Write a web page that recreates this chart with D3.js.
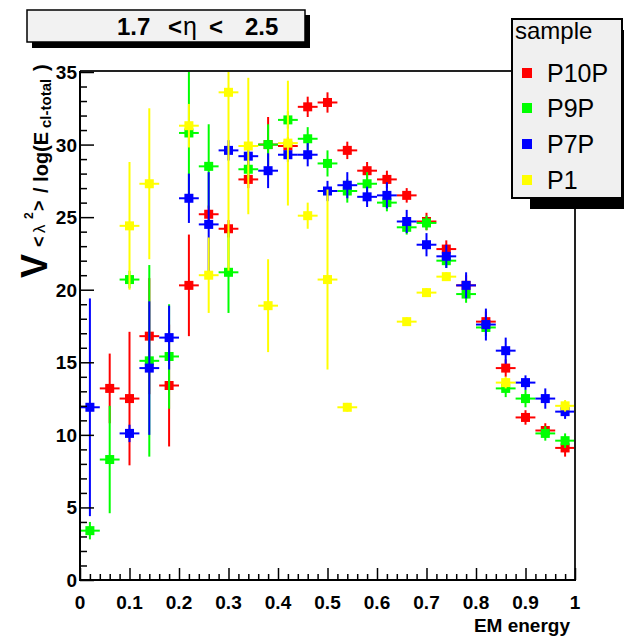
<!DOCTYPE html>
<html>
<head>
<meta charset="utf-8">
<script src="https://cdn.jsdelivr.net/npm/d3@7"></script>
<style>
  html, body { margin: 0; padding: 0; background: #fff; }
  svg { display: block; }
  text { font-family: "Liberation Sans", Arial, Helvetica, sans-serif; }
</style>
</head>
<body>
<svg id="chart" width="624" height="637"></svg>
<script>
// ---------- data ----------
const binCenters = [0.02,0.06,0.10,0.14,0.18,0.22,0.26,0.30,0.34,0.38,0.42,0.46,0.50,0.54,0.58,0.62,0.66,0.70,0.74,0.78,0.82,0.86,0.90,0.94,0.98];
const binHalfWidth = 0.02;

const seriesNames = ["P10P", "P9P", "P7P", "P1"];
const seriesColors = ["#ff0000", "#00ff00", "#0000ff", "#ffff00"];

const p10pValues = [null,13.2,12.5,16.8,13.4,20.3,25.2,24.2,27.6,30.0,29.9,32.6,32.9,29.6,28.2,27.6,26.5,24.7,22.8,20.3,17.8,14.6,11.2,10.3,9.1];
const p10pErrors = [null,2.4,4.6,4.0,4.2,3.5,0.6,0.6,0.6,1.9,0.6,0.7,0.7,0.6,0.6,0.6,0.5,0.6,0.6,0.7,0.7,0.6,0.5,0.5,0.6];

const p9pValues = [3.4,8.3,20.7,15.1,15.4,30.8,28.5,21.2,28.3,30.0,31.7,30.4,28.7,26.8,27.3,26.0,24.3,24.6,22.0,19.7,17.4,13.2,12.5,10.1,9.6];
const p9pErrors = [0.6,3.7,0.6,6.6,3.6,4.4,2.9,2.8,0.6,1.4,0.6,0.8,0.9,0.8,0.8,0.6,0.5,0.5,0.5,0.6,0.6,0.6,0.6,0.5,0.5];

const p7pValues = [11.9,null,10.1,14.6,16.7,26.3,24.5,29.6,29.2,28.2,29.3,29.3,26.8,27.2,26.4,26.5,24.7,23.1,22.3,20.3,17.6,15.8,13.6,12.5,11.6];
const p7pErrors = [7.5,null,0.6,4.6,2.2,1.7,3.6,0.7,0.6,1.2,0.5,0.8,0.7,0.9,0.7,0.9,0.8,0.8,0.8,0.9,1.1,0.9,0.5,0.7,0.5];

const p1Values = [null,null,24.4,27.3,null,31.3,21.0,33.6,29.9,18.9,30.1,25.1,20.7,11.9,null,null,17.8,19.8,20.9,null,null,13.6,null,null,12.0];
const p1Errors = [null,null,4.4,5.2,null,1.5,2.6,12.3,4.7,3.2,4.3,0.9,6.2,0.3,null,null,0.3,0.3,0.3,null,null,0.4,null,null,0.4];

const xTickLabels = ["0","0.1","0.2","0.3","0.4","0.5","0.6","0.7","0.8","0.9","1"];
const yTickLabels = ["0","5","10","15","20","25","30","35"];

const titleText = ["1.7", "<", "\u03B7", "<", "2.5"];
const xAxisTitle = "EM energy";
const legendHeader = "sample";

// ---------- layout ----------
const svg = d3.select("#chart");
const L = 80, R = 575, T = 72, B = 580;
const x = d3.scaleLinear().domain([0, 1]).range([L, R]);
const y = d3.scaleLinear().domain([0, 35]).range([B, T]);

const allValues = [p10pValues, p9pValues, p7pValues, p1Values];
const allErrors = [p10pErrors, p9pErrors, p7pErrors, p1Errors];

// clip
svg.append("defs").append("clipPath").attr("id", "plotclip")
  .append("rect").attr("x", L).attr("y", T).attr("width", R - L).attr("height", B - T);

// ---------- data marks ----------
const plot = svg.append("g").attr("clip-path", "url(#plotclip)");
const ms = 9;
allValues.forEach((vals, si) => {
  const errs = allErrors[si];
  const color = seriesColors[si];
  const pts = binCenters.map((c, i) => ({c, v: vals[i], e: errs[i]})).filter(d => d.v != null);
  const g = plot.append("g");
  g.selectAll("line.v").data(pts).enter().append("line")
    .attr("x1", d => x(d.c)).attr("x2", d => x(d.c))
    .attr("y1", d => y(d.v + d.e)).attr("y2", d => y(d.v - d.e))
    .attr("stroke", color).attr("stroke-width", 2);
  g.selectAll("line.h").data(pts).enter().append("line")
    .attr("x1", d => x(d.c - binHalfWidth)).attr("x2", d => x(d.c + binHalfWidth))
    .attr("y1", d => y(d.v)).attr("y2", d => y(d.v))
    .attr("stroke", color).attr("stroke-width", 2);
  g.selectAll("rect").data(pts).enter().append("rect")
    .attr("x", d => x(d.c) - ms / 2).attr("y", d => y(d.v) - ms / 2)
    .attr("width", ms).attr("height", ms).attr("fill", color);
});

// ---------- frame & axes ----------
svg.append("line").attr("x1", L).attr("x2", R).attr("y1", T - 1).attr("y2", T - 1)
  .attr("stroke", "#222").attr("stroke-width", 2);
svg.append("line").attr("x1", R).attr("x2", R).attr("y1", T - 1).attr("y2", B)
  .attr("stroke", "#222").attr("stroke-width", 2);

// x axis
const xAxis = d3.axisTop(x).tickValues(d3.range(0, 11).map(i => i / 10)).tickSize(12).tickFormat("");
const xg = svg.append("g").attr("transform", `translate(0,${B})`).call(xAxis);
const xMinor = d3.axisTop(x).tickValues(d3.range(0, 51).map(i => i / 50).filter((v, i) => i % 5 !== 0)).tickSize(6).tickFormat("");
const xmg = svg.append("g").attr("transform", `translate(0,${B})`).call(xMinor);
[xg, xmg].forEach(g => { g.select(".domain").remove(); g.selectAll("line").attr("stroke", "#000").attr("stroke-width", 1.5); });
svg.append("line").attr("x1", L - 1).attr("x2", R + 1).attr("y1", B).attr("y2", B).attr("stroke", "#000").attr("stroke-width", 2);
svg.selectAll("text.xl").data(xTickLabels).enter().append("text")
  .attr("class", "xl")
  .attr("x", (d, i) => x(i / 10)).attr("y", 609)
  .attr("text-anchor", "middle").attr("font-weight", "bold").attr("font-size", 19)
  .text(d => d);
svg.append("text").attr("x", 570).attr("y", 632).attr("text-anchor", "end")
  .attr("font-weight", "bold").attr("font-size", 19).text(xAxisTitle);

// y axis
const yAxis = d3.axisRight(y).tickValues(d3.range(0, 36, 5)).tickSize(14).tickFormat("");
const yg = svg.append("g").attr("transform", `translate(${L},0)`).call(yAxis);
const yMinor = d3.axisRight(y).tickValues(d3.range(0, 36).filter(v => v % 5 !== 0)).tickSize(7).tickFormat("");
const ymg = svg.append("g").attr("transform", `translate(${L},0)`).call(yMinor);
[yg, ymg].forEach(g => { g.select(".domain").remove(); g.selectAll("line").attr("stroke", "#000").attr("stroke-width", 1.5); });
svg.append("line").attr("x1", L).attr("x2", L).attr("y1", T - 1).attr("y2", B + 1).attr("stroke", "#000").attr("stroke-width", 2);
svg.selectAll("text.yl").data(yTickLabels).enter().append("text")
  .attr("class", "yl")
  .attr("x", 77).attr("y", (d, i) => y(i * 5) + 7)
  .attr("text-anchor", "end").attr("font-weight", "bold").attr("font-size", 19)
  .text(d => d);

// y axis title (rotated pieces)
const yt = svg.append("g").attr("transform", "rotate(-90)");
function ypiece(str, yStart, xBase, size, weight) {
  yt.append("text").attr("x", -yStart).attr("y", xBase)
    .attr("font-size", size).attr("font-weight", weight || "bold").text(str);
}
ypiece("V", 278, 47, 36, "bold");
ypiece("<", 247, 45, 18, "bold");
ypiece("\u03BB", 233, 45, 17, "normal");
ypiece("2", 219, 33, 12, "bold");
ypiece(">", 211, 45, 18, "bold");
ypiece("/ log(E", 193, 48, 20, "bold");
ypiece("cl-total", 128, 51, 15, "bold");
ypiece(")", 71, 48, 20, "bold");

// ---------- title box ----------
svg.append("rect").attr("x", 32).attr("y", 15).attr("width", 278).attr("height", 33).attr("fill", "#000");
svg.append("rect").attr("x", 27).attr("y", 10).attr("width", 278).attr("height", 32)
  .attr("fill", "#f2f2f2").attr("stroke", "#000").attr("stroke-width", 1.5);
const tpos = [117, 168, 183, 209, 245];
titleText.forEach((t, i) => {
  svg.append("text").attr("x", tpos[i]).attr("y", 35)
    .attr("font-size", i === 2 ? 25 : 24).attr("font-weight", i === 2 ? "normal" : "bold").text(t);
});

// ---------- legend ----------
svg.append("rect").attr("x", 530).attr("y", 30).attr("width", 110).attr("height", 179).attr("fill", "#000");
svg.append("rect").attr("x", 512).attr("y", 19).attr("width", 110).attr("height", 179)
  .attr("fill", "#f0f0f0").attr("stroke", "#000").attr("stroke-width", 2);
svg.append("text").attr("x", 515).attr("y", 39).attr("font-size", 24).text(legendHeader);
const legY = [73, 108, 144, 180];
seriesNames.forEach((n, i) => {
  svg.append("rect").attr("x", 522).attr("y", legY[i] - 5).attr("width", 10).attr("height", 10).attr("fill", seriesColors[i]);
  svg.append("text").attr("x", 547).attr("y", legY[i] + 9).attr("font-size", 25).text(n);
});
</script>
</body>
</html>
